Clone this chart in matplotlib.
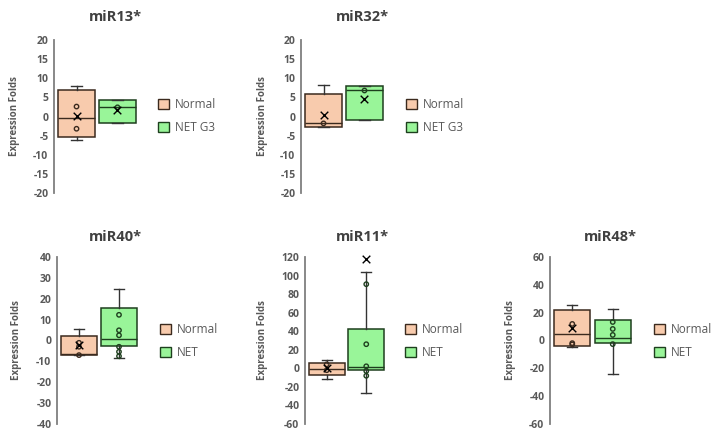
import matplotlib
matplotlib.use("Agg")
import matplotlib.pyplot as plt
from matplotlib.patches import Patch
import numpy as np

plt.rcParams['font.family'] = ['Open Sans', 'DejaVu Sans']
plt.rcParams['axes.unicode_minus'] = False

titles = ["miR13*", "miR32*", "miR40*", "miR11*", "miR48*"]
net_labels = ["NET G3", "NET G3", "NET", "NET", "NET"]

# [whislo, q1, med, q3, whishi]
normal_box = [[-6.1, -5.3, -0.35, 6.8, 8.0],
              [-2.8, -2.7, -1.6, 5.9, 8.2],
              [-7.0, -7.0, -6.6, 2.1, 5.6],
              [-12.0, -7.6, -0.5, 6.1, 9.4],
              [-5.0, -4.3, 4.5, 21.9, 25.4]]
normal_mean = [0.26, 0.5, -2.1, 0.7, 8.8]
normal_pts = [[2.6, -3.2], [-1.8], [-1.1, -3.0, -7.0], [4.3, -2.0], [11.9, -1.9, -2.8]]

net_box = [[-1.65, -1.65, 2.4, 4.3, 4.3],
           [-1.0, -1.0, 6.8, 8.0, 8.0],
           [-8.3, -2.5, 0.6, 15.6, 24.9],
           [-27.0, -1.4, 1.4, 42.3, 104.0],
           [-24.2, -1.7, 1.9, 14.7, 22.6]]
net_mean = [1.8, 4.5, None, 118.0, None]
net_pts = [[2.4], [6.8], [12.3, 4.9, 2.5, -3.0, -5.4, -7.5],
           [90.7, 26.0, 2.2, -2.9, -8.0], [13.3, 8.3, 4.0, -2.6]]

ylims = [(-20, 20), (-20, 20), (-40, 40), (-60, 120), (-60, 60)]
ysteps = [5, 5, 10, 20, 20]

# layout in pixels: spine x, right x, top y, bottom y, legend x, legend y, ylabel x, title x
layout = [(54, 140, 40, 193, 158, 116, 15, 115),
          (301, 387, 40, 193, 406, 116, 262, 362),
          (57, 141, 257, 424, 160, 341, 17, 115),
          (305, 388, 257, 424, 405, 341, 263, 362),
          (550, 635, 257, 424, 654, 341, 511, 610)]

W, H = 726, 440
fig = plt.figure(figsize=(W / 100, H / 100), dpi=100)

normal_fill, normal_edge = '#F8CBAD', '#3B2A1E'
net_fill, net_edge = '#99F599', '#1E3F1E'
text_col = '#595959'

for i in range(5):
    x0, x1, yt, yb, lx, ly, ylx, tx = layout[i]
    ax = fig.add_axes([x0 / W, 1 - yb / H, (x1 - x0) / W, (yb - yt) / H])
    stats = []
    for b in (normal_box[i], net_box[i]):
        stats.append(dict(whislo=b[0], q1=b[1], med=b[2], q3=b[3], whishi=b[4], fliers=[]))
    bp = ax.bxp(stats, positions=[1, 2], widths=0.9, patch_artist=True,
                showfliers=False, capwidths=0.25,
                medianprops=dict(color='k', lw=1),
                whiskerprops=dict(color='#333333', lw=1),
                capprops=dict(color='#333333', lw=1))
    for patch, fc, ec in zip(bp['boxes'], [normal_fill, net_fill], [normal_edge, net_edge]):
        patch.set_facecolor(fc)
        patch.set_edgecolor(ec)
        patch.set_linewidth(1.1)
    bp['medians'][0].set_color(normal_edge)
    bp['medians'][1].set_color(net_edge)

    for pos, pts, mean, ec in [(1, normal_pts[i], normal_mean[i], normal_edge),
                               (2, net_pts[i], net_mean[i], net_edge)]:
        ax.scatter([pos] * len(pts), pts, s=10, facecolors='none',
                   edgecolors=ec, linewidths=1.0, zorder=4)
        if mean is not None:
            ax.scatter([pos], [mean], marker='x', s=30, color='k', linewidths=1.0,
                       zorder=5, clip_on=False)

    lo, hi = ylims[i]
    ax.set_ylim(lo, hi)
    ax.set_xlim(0.45, 2.55)
    ticks = np.arange(lo, hi + 1, ysteps[i])
    ax.set_yticks(ticks)
    ax.set_yticklabels([str(int(t)) for t in ticks])
    ax.tick_params(axis='y', length=0, pad=4, labelsize=7.5, labelcolor=text_col)
    for lab in ax.get_yticklabels():
        lab.set_fontweight('bold')
    ax.set_xticks([])
    for s in ['top', 'right', 'bottom']:
        ax.spines[s].set_visible(False)
    ax.spines['left'].set_color('#7F7F7F')
    ax.spines['left'].set_linewidth(1.3)
    ax.patch.set_alpha(0)

    ty = 17 if yt < 100 else 237
    fig.text(tx / W, 1 - ty / H, titles[i], ha='center', va='center', fontsize=10.5,
             fontweight='bold', color='#404040')
    fig.text(ylx / W, 1 - (yt + yb) / 2 / H, "Expression Folds", rotation=90,
             ha='center', va='center', fontsize=7, fontweight='bold', color=text_col)

    handles = [Patch(facecolor=normal_fill, edgecolor=normal_edge, label='Normal'),
               Patch(facecolor=net_fill, edgecolor=net_edge, label=net_labels[i])]
    ax.legend(handles=handles, loc='center left', bbox_to_anchor=(lx / W, 1 - ly / H),
              bbox_transform=fig.transFigure, frameon=False, handlelength=0.9,
              handleheight=0.9, handletextpad=0.5, labelspacing=0.9, fontsize=8.5,
              labelcolor=text_col, borderaxespad=0, borderpad=0)

fig.savefig('out.png', dpi=100)
